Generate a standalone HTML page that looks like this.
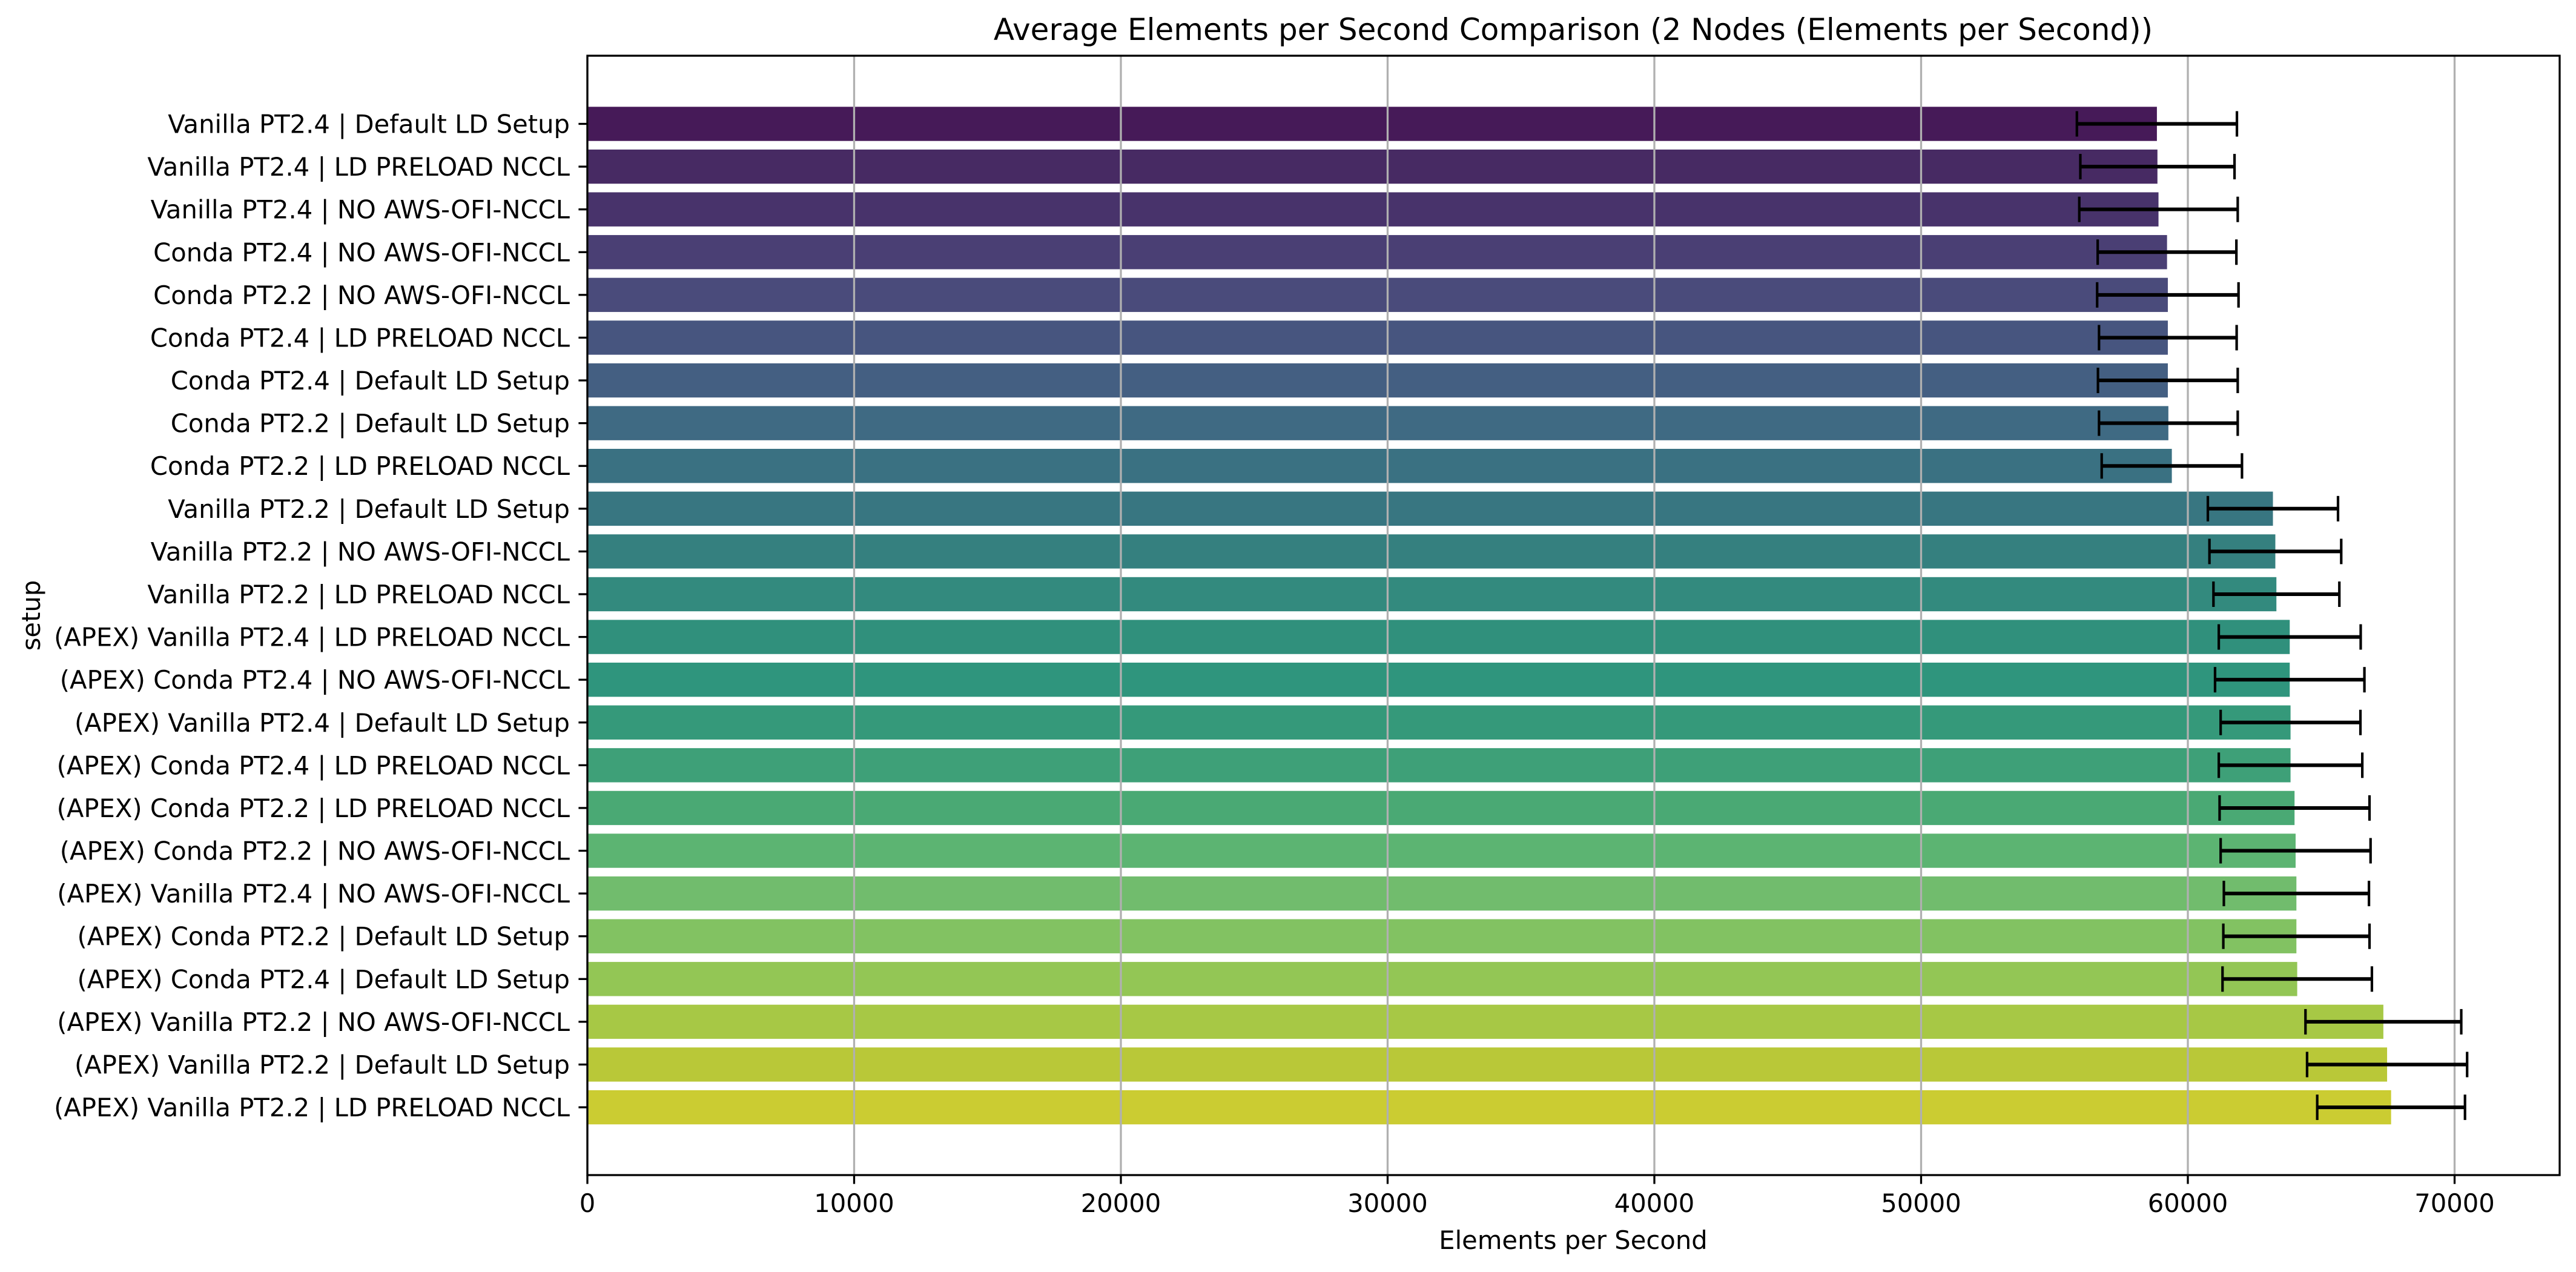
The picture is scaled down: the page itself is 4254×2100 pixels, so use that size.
<!DOCTYPE html>
<html><head><meta charset="utf-8"><style>
html,body{margin:0;padding:0;background:#fff;}
svg{display:block;font-family:"DejaVu Sans","Liberation Sans",sans-serif;}
</style></head><body>
<svg id="chart" width="4254" height="2100" viewBox="0 0 4254 2100" xmlns="http://www.w3.org/2000/svg">
<rect width="4254" height="2100" fill="#fff"/>
<text x="2598" y="66" text-anchor="middle" font-size="50">Average Elements per Second Comparison (2 Nodes (Elements per Second))</text>
<text x="2598" y="2062" text-anchor="middle" font-size="41.7">Elements per Second</text>
<text transform="translate(66,1016) rotate(-90)" text-anchor="middle" font-size="41.7">setup</text>
<g id="grid"></g><g id="bars"></g><g id="gridtop"></g><g id="errs"></g><g id="axes"></g>
</svg>
<script>
const categories = [
"Vanilla PT2.4 | Default LD Setup","Vanilla PT2.4 | LD PRELOAD NCCL","Vanilla PT2.4 | NO AWS-OFI-NCCL",
"Conda PT2.4 | NO AWS-OFI-NCCL","Conda PT2.2 | NO AWS-OFI-NCCL","Conda PT2.4 | LD PRELOAD NCCL",
"Conda PT2.4 | Default LD Setup","Conda PT2.2 | Default LD Setup","Conda PT2.2 | LD PRELOAD NCCL",
"Vanilla PT2.2 | Default LD Setup","Vanilla PT2.2 | NO AWS-OFI-NCCL","Vanilla PT2.2 | LD PRELOAD NCCL",
"(APEX) Vanilla PT2.4 | LD PRELOAD NCCL","(APEX) Conda PT2.4 | NO AWS-OFI-NCCL","(APEX) Vanilla PT2.4 | Default LD Setup",
"(APEX) Conda PT2.4 | LD PRELOAD NCCL","(APEX) Conda PT2.2 | LD PRELOAD NCCL","(APEX) Conda PT2.2 | NO AWS-OFI-NCCL",
"(APEX) Vanilla PT2.4 | NO AWS-OFI-NCCL","(APEX) Conda PT2.2 | Default LD Setup","(APEX) Conda PT2.4 | Default LD Setup",
"(APEX) Vanilla PT2.2 | NO AWS-OFI-NCCL","(APEX) Vanilla PT2.2 | Default LD Setup","(APEX) Vanilla PT2.2 | LD PRELOAD NCCL"];
const values = [58840,58860,58900,59220,59250,59250,59250,59270,59400,63190,63280,63320,63820,63820,63850,63850,64000,64040,64070,64070,64100,67330,67470,67620];
const errors = [3000,2890,2970,2600,2650,2580,2620,2600,2630,2440,2470,2360,2660,2800,2620,2690,2810,2810,2720,2740,2800,2920,3000,2770];
const colors = ["#461a58","#472a63","#48336b","#4a3f74","#4a4b7b","#47557f","#445f82","#3f6a83","#3a7182","#387681","#35807f","#338a7e","#30907c","#2f957d","#35997a","#3ea078","#4aa974","#5cb472","#71bc6d","#82c262","#93c655","#a7c845","#b9c838","#cbcc32"];
const xTicks = [0,10000,20000,30000,40000,50000,60000,70000];

const NS="http://www.w3.org/2000/svg";
const L=970,R=4227,T=92,B=1940;
const xs=v=>L+v*(440.5/10000);
const ys=i=>204.5+i*70.59;
const bh=56.4;
function mk(tag,attrs,parent){const e=document.createElementNS(NS,tag);for(const k in attrs)e.setAttribute(k,attrs[k]);document.getElementById(parent).appendChild(e);return e;}

xTicks.forEach((t,i)=>{
  const g=mk('line',{x1:xs(t),x2:xs(t),y1:T,y2:B,stroke:'#b0b0b0','stroke-width':3.3},'gridtop');
  
  
  const tk=mk('line',{x1:xs(t),x2:xs(t),y1:B,y2:B+14.6,stroke:'#000','stroke-width':3.3},'axes');
  
  
  const lb=mk('text',{x:xs(t),y:B+61,'text-anchor':'middle','font-size':41.7},'axes');
  lb.textContent=String(t);
  
  
});
categories.forEach((c,i)=>{
  const y=ys(i);
  const b=mk('rect',{x:L,y:y-bh/2,width:xs(values[i])-L,height:bh,fill:colors[i]},'bars');
  
  
  const lo=xs(values[i]-errors[i]),hi=xs(values[i]+errors[i]);
  const e=mk('line',{x1:lo,x2:hi,y1:y,y2:y,stroke:'#000','stroke-width':6},'errs');
  
  
  [lo,hi].forEach(x=>{
    const cp=mk('line',{x1:x,x2:x,y1:y-21,y2:y+21,stroke:'#000','stroke-width':4.2},'errs');
    
    
  });
  const tk=mk('line',{x1:L-14.6,x2:L,y1:y,y2:y,stroke:'#000','stroke-width':3.3},'axes');
  
  
  const lb=mk('text',{x:L-29,y:y+15,'text-anchor':'end','font-size':41.7},'axes');
  lb.textContent=c;
  
  
});
const fr=mk('rect',{x:L,y:T,width:R-L,height:B-T,fill:'none',stroke:'#000','stroke-width':3.3},'axes');


</script>
</body></html>
